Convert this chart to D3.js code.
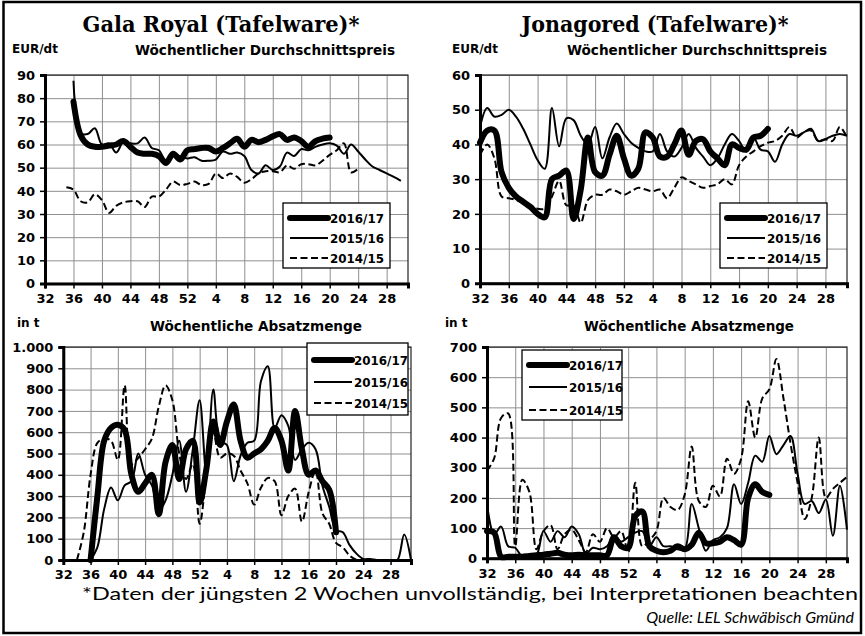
<!DOCTYPE html>
<html><head><meta charset="utf-8">
<script src="https://cdn.jsdelivr.net/npm/d3@7"></script>
<style>body{margin:0;background:#fff}svg{display:block}</style>
</head><body>
<svg id="c" width="865" height="636"></svg>
<script>
// ---- data ----
const weeks = [32,33,34,35,36,37,38,39,40,41,42,43,44,45,46,47,48,49,50,51,52,
  1,2,3,4,5,6,7,8,9,10,11,12,13,14,15,16,17,18,19,20,21,22,23,24,25,26,27,28,29,30,31];
const tickWeeks = [32,36,40,44,48,52,4,8,12,16,20,24,28];
const seriesNames = ["2016/17","2015/16","2014/15"];
const N = null;

// Gala Royal price (EUR/dt)  weeks 32..52 | 1..31
const galaPrice1617 = [N,N,N,N,78.5,64,60,59,59,59.5,60,61.5,59,56.5,56,56,55,52,56,53.5,57.5,
  58,58.5,58.5,57,58.5,60.5,62.5,59,62,61,62,63.5,64.5,62,63,61.5,59,61.5,62.5,63,N,N,N,N,N,N,N,N,N,N,N];
const galaPrice1516 = [N,N,N,N,87.5,65,64.5,67,60,60.5,56.5,61,60.5,60.5,63,58.5,57.5,53,56,55,54,
  54.5,53,53,53.5,57,56,56.5,55,49,47.5,51,49,50.5,56.5,55,58,57.5,59,60,60.5,59.5,56,60,57,53.5,50.5,49,47.5,46,44.3,N];
const galaPrice1415 = [N,N,N,41.5,40.5,35.5,35,38.5,36,30.5,33.5,35,35.5,35.5,33,37.5,37.5,40.5,44,42.5,43,
  44,42.5,43,47.5,45.5,47.5,46,43.5,45,47.5,48.5,48.5,48,51,49.5,51.5,51.5,51,53,55.5,57.5,60.5,48,49.5,N,N,N,N,N,N,N];

// Jonagored price (EUR/dt)
const jonaPrice1617 = [40.5,44,44,32,27.5,25,23.5,22,20,19,30,31,32.5,18.5,27,42,32,31,37,42.5,36,
  31,33,43.5,42,36.5,36.5,40,44,37,41,41.5,38,36,34,40,39,38.5,42,42.5,44.5,N,N,N,N,N,N,N,N,N,N,N];
const jonaPrice1516 = [45,50.5,48,48.5,50,48,44.5,40,35.5,33,50.5,39.5,47.5,47,42.5,40,45,36,42,46,43,
  40.5,39,38,38,43,38,36.5,39,43,39,36.5,34,36,40,43,41,38,42,38.5,38,35,40,43,42.5,43.5,44.5,41,41.5,42.5,43,42.5];
const jonaPrice1415 = [37,40,36,25,24.5,24,23,22,21.5,21.5,25,29.5,22.5,22.5,17.5,24,25.5,25.5,27,26.5,25.5,
  26.5,27.5,27,26.5,27,24.5,27.5,30.5,29.5,28.5,27.5,28,28.5,30,28.5,34,36.5,38,39.5,40.5,41,42.5,45,42,43.5,44,41,41.5,41,45,42];

// Gala Royal quantity (t)
const galaQty1617 = [N,N,N,N,0,300,560,620,635,610,400,320,360,400,215,460,540,380,520,560,270,
  430,650,540,650,730,560,480,500,520,560,620,560,420,700,520,400,420,370,330,130,N,N,N,N,N,N,N,N,N,N,N];
const galaQty1516 = [N,N,N,N,0,60,240,340,280,350,370,500,400,350,230,280,400,560,320,520,750,
  400,800,560,540,370,490,550,560,840,910,620,680,630,470,520,550,520,350,250,140,130,70,30,5,5,0,0,0,0,120,0];
const galaQty1415 = [N,N,0,130,400,550,570,560,470,820,450,480,520,570,720,820,750,500,380,450,170,
  400,600,480,500,490,420,360,260,340,385,370,210,300,335,180,320,420,220,170,80,60,20,0,N,N,N,N,N,N,N,N];

// Jonagored quantity (t)
const jonaQty1617 = [90,85,5,5,5,5,8,10,12,15,18,12,10,12,10,10,10,10,70,40,35,
  140,155,40,25,20,25,40,30,45,85,50,50,55,70,60,45,200,245,220,210,N,N,N,N,N,N,N,N,N,N,N];
const jonaQty1516 = [180,80,105,40,35,5,5,10,90,55,90,70,105,80,15,35,30,40,75,55,70,
  85,90,40,70,40,40,30,30,180,100,25,60,70,100,245,180,250,340,320,405,345,375,405,280,180,190,150,195,75,240,95];
const jonaQty1415 = [290,330,465,480,40,260,220,30,90,110,30,80,95,60,20,80,55,100,70,90,20,
  250,40,60,90,200,170,160,210,370,190,170,240,205,330,280,330,520,400,530,560,660,530,380,250,130,200,400,200,230,250,270];

const deFmt = d3.formatLocale({decimal:",",thousands:".",grouping:[3],currency:["","€"]}).format(",");

// ---- layout ----
const svg = d3.select("#c");
svg.append("rect").attr("x",3.5).attr("y",2).attr("width",857.5).attr("height",631)
  .attr("fill","#fff").attr("stroke","#000").attr("stroke-width",2.5);

const styles = [
  {w:6, dash:null},
  {w:2, dash:null},
  {w:2, dash:"7,3.5"}
];
const SANS = "DejaVu Sans, Arial, sans-serif";

const panels = [
  {x0:45,x1:408,yT:75,yB:283.5,max:90,step:10,fmt:d3.format("d"),
   series:[galaPrice1617,galaPrice1516,galaPrice1415],
   leg:{x:283,y:203,w:107,h:65,rows:[218,238,258]},
   unit:{t:"EUR/dt",x:12,y:53}, sub:{t:"Wöchentlicher Durchschnittspreis",cx:265,y:55,len:260},
   title:{t:"Gala Royal (Tafelware)*",cx:221,len:277}},
  {x0:480,x1:847,yT:75,yB:283.3,max:60,step:10,fmt:d3.format("d"),
   series:[jonaPrice1617,jonaPrice1516,jonaPrice1415],
   leg:{x:720,y:203,w:107,h:65,rows:[218,238,258]},
   unit:{t:"EUR/dt",x:452,y:53}, sub:{t:"Wöchentlicher Durchschnittspreis",cx:697,y:55,len:260},
   title:{t:"Jonagored (Tafelware)*",cx:655,len:267}},
  {x0:63.3,x1:411,yT:347,yB:560,max:1000,step:100,fmt:deFmt,
   series:[galaQty1617,galaQty1516,galaQty1415],
   leg:{x:307,y:343,w:101,h:72,rows:[360,382,403]},
   unit:{t:"in t",x:17,y:327}, sub:{t:"Wöchentliche Absatzmenge",cx:256,y:331,len:212}},
  {x0:487,x1:847,yT:347,yB:558.3,max:700,step:100,fmt:d3.format("d"),
   series:[jonaQty1617,jonaQty1516,jonaQty1415],
   leg:{x:522,y:350,w:100,h:70,rows:[365,387,410]},
   unit:{t:"in t",x:445,y:327}, sub:{t:"Wöchentliche Absatzmenge",cx:689,y:331,len:210}}
];

panels.forEach(p => {
  const g = svg.append("g");
  const x = d3.scaleLinear().domain([0, weeks.length-1]).range([p.x0, p.x1]);
  const y = d3.scaleLinear().domain([0, p.max]).range([p.yB, p.yT]);
  const yTicks = d3.range(0, p.max + p.step/2, p.step);
  const xTickIdx = tickWeeks.map(w => weeks.indexOf(w));

  // gridlines
  g.append("g").attr("transform",`translate(${p.x0},0)`)
    .call(d3.axisLeft(y).tickValues(yTicks).tickSize(-(p.x1-p.x0)).tickFormat(""))
    .call(a=>a.select(".domain").remove())
    .call(a=>a.selectAll("line").attr("stroke","#8f8f8f").attr("stroke-width",1));
  g.append("g").attr("transform",`translate(0,${p.yB})`)
    .call(d3.axisBottom(x).tickValues(xTickIdx).tickSize(-(p.yB-p.yT)).tickFormat(""))
    .call(a=>a.select(".domain").remove())
    .call(a=>a.selectAll("line").attr("stroke","#8f8f8f").attr("stroke-width",1));
  // frame
  g.append("rect").attr("x",p.x0).attr("y",p.yT).attr("width",p.x1-p.x0).attr("height",p.yB-p.yT)
    .attr("fill","none").attr("stroke","#222").attr("stroke-width",1.2);

  // series
  const line = d3.line().defined(d => d != null).x((d,i)=>x(i)).y(d=>y(d))
    .curve(d3.curveCatmullRom.alpha(0.5));
  [2,1,0].forEach(k => {
    g.append("path").attr("d", line(p.series[k]))
      .attr("fill","none").attr("stroke","#000").attr("stroke-width",styles[k].w)
      .attr("stroke-linejoin","round").attr("stroke-linecap", k===0?"round":"butt")
      .attr("stroke-dasharray", styles[k].dash);
  });

  // axes
  const ya = g.append("g").attr("transform",`translate(${p.x0},0)`)
    .call(d3.axisLeft(y).tickValues(yTicks).tickSize(5).tickPadding(5).tickFormat(p.fmt));
  const xa = g.append("g").attr("transform",`translate(0,${p.yB})`)
    .call(d3.axisBottom(x).tickValues(xTickIdx).tickSize(5).tickPadding(5).tickFormat(i=>weeks[i]));
  [ya,xa].forEach(a => {
    a.select(".domain").attr("stroke","#000").attr("stroke-width",3);
    a.selectAll(".tick line").attr("stroke","#000").attr("stroke-width",1.5);
    a.selectAll("text").attr("font-family",SANS)
      .attr("font-weight","bold").attr("font-size",13).attr("fill","#000");
  });

  // legend
  const L = p.leg;
  const lg = g.append("g");
  lg.append("rect").attr("x",L.x).attr("y",L.y).attr("width",L.w).attr("height",L.h)
    .attr("fill","#fff").attr("stroke","#000").attr("stroke-width",1.3);
  seriesNames.forEach((nm,k) => {
    lg.append("line").attr("x1",L.x+7).attr("x2",L.x+45).attr("y1",L.rows[k]).attr("y2",L.rows[k])
      .attr("stroke","#000").attr("stroke-width",styles[k].w)
      .attr("stroke-linecap",k===0?"round":"butt").attr("stroke-dasharray",styles[k].dash);
    lg.append("text").attr("x",L.x+47).attr("y",L.rows[k]+4.5).text(nm)
      .attr("font-family",SANS).attr("font-weight","bold")
      .attr("font-size",12).attr("textLength",54).attr("lengthAdjust","spacingAndGlyphs");
  });

  // texts
  g.append("text").attr("x",p.unit.x).attr("y",p.unit.y).text(p.unit.t)
    .attr("font-family",SANS).attr("font-weight","bold").attr("font-size",12);
  g.append("text").attr("x",p.sub.cx).attr("y",p.sub.y).attr("text-anchor","middle").text(p.sub.t)
    .attr("font-family",SANS).attr("font-weight","bold").attr("font-size",14)
    .attr("textLength",p.sub.len).attr("lengthAdjust","spacingAndGlyphs");
  if (p.title) {
    g.append("text").attr("x",p.title.cx).attr("y",31.5).attr("text-anchor","middle").text(p.title.t)
      .attr("font-family","DejaVu Serif, serif").attr("font-weight","bold").attr("font-size",22)
      .attr("textLength",p.title.len).attr("lengthAdjust","spacingAndGlyphs");
  }
});

svg.append("text").attr("x",858).attr("y",600).attr("text-anchor","end")
  .text("*Daten der jüngsten 2 Wochen unvollständig, bei Interpretationen beachten")
  .attr("font-family","Lato, Noto Sans, sans-serif").attr("font-size",18)
  .attr("textLength",776).attr("lengthAdjust","spacingAndGlyphs");
svg.append("text").attr("x",854).attr("y",623).attr("text-anchor","end")
  .text("Quelle: LEL Schwäbisch Gmünd")
  .attr("font-family","Lato, Noto Sans, sans-serif").attr("font-style","italic").attr("font-size",16);
</script>
</body></html>
